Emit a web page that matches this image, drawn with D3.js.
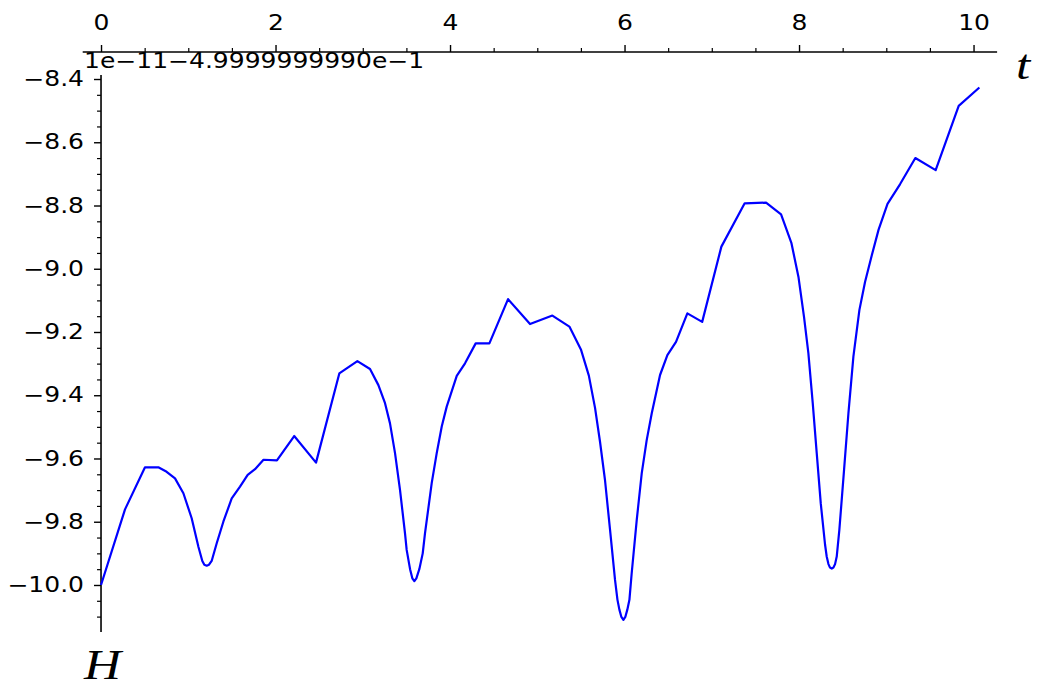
<!DOCTYPE html>
<html>
<head>
<meta charset="utf-8">
<script src="https://cdn.jsdelivr.net/npm/d3@7"></script>
<style>
  html, body { margin: 0; padding: 0; background: #fff; }
  svg { display: block; }
  .tick text { font-family: "DejaVu Sans", sans-serif; font-size: 20.5px; fill: #000; }
  .mathlabel { font-family: "Liberation Serif", "DejaVu Serif", serif; font-style: italic; font-size: 42px; fill: #000; }
  .offset { font-family: "DejaVu Sans", sans-serif; font-size: 20.5px; fill: #000; }
</style>
</head>
<body>
<svg id="chart" width="1038" height="685"></svg>
<script>
// Time samples t and energy H (in units of 1e-11, relative to -4.9999999990e-1)
const tValues = [
  0.000, 0.275, 0.504, 0.657, 0.752, 0.848, 0.944, 1.039, 1.116, 1.161,
  1.184, 1.211, 1.238, 1.268, 1.326, 1.402, 1.498, 1.593, 1.681, 1.765,
  1.862, 2.016, 2.214, 2.464, 2.731, 2.938, 3.083, 3.179, 3.255, 3.312,
  3.370, 3.427, 3.484, 3.503, 3.542, 3.568, 3.591, 3.614, 3.648, 3.687,
  3.713, 3.790, 3.847, 3.905, 3.962, 4.077, 4.172, 4.294, 4.451, 4.665,
  4.917, 5.173, 5.368, 5.500, 5.591, 5.662, 5.719, 5.776, 5.834, 5.891,
  5.919, 5.941, 5.964, 5.987, 6.009, 6.032, 6.056, 6.082, 6.140, 6.197,
  6.254, 6.312, 6.407, 6.491, 6.590, 6.720, 6.890, 7.110, 7.377, 7.622,
  7.794, 7.912, 7.993, 8.057, 8.107, 8.157, 8.203, 8.249, 8.298, 8.317,
  8.337, 8.355, 8.375, 8.394, 8.413, 8.432, 8.462, 8.516, 8.566, 8.623,
  8.692, 8.757, 8.834, 8.911, 9.014, 9.157, 9.333, 9.566, 9.830, 10.067
];
const hValues = [
  -10.000, -9.761, -9.628, -9.628, -9.642, -9.663, -9.710, -9.789, -9.879, -9.924,
  -9.936, -9.939, -9.936, -9.924, -9.868, -9.800, -9.726, -9.689, -9.652, -9.634,
  -9.604, -9.606, -9.529, -9.613, -9.331, -9.292, -9.317, -9.368, -9.425, -9.489,
  -9.584, -9.700, -9.837, -9.889, -9.950, -9.979, -9.988, -9.979, -9.950, -9.900,
  -9.837, -9.678, -9.584, -9.499, -9.436, -9.339, -9.299, -9.236, -9.236, -9.096,
  -9.175, -9.148, -9.183, -9.255, -9.338, -9.440, -9.547, -9.668, -9.826, -9.984,
  -10.047, -10.078, -10.101, -10.110, -10.101, -10.078, -10.047, -9.963, -9.794, -9.647,
  -9.542, -9.457, -9.336, -9.273, -9.231, -9.141, -9.168, -8.930, -8.793, -8.791,
  -8.828, -8.918, -9.025, -9.152, -9.267, -9.425, -9.584, -9.742, -9.872, -9.910,
  -9.934, -9.945, -9.948, -9.945, -9.934, -9.910, -9.826, -9.636, -9.457, -9.278,
  -9.130, -9.041, -8.957, -8.877, -8.795, -8.733, -8.650, -8.688, -8.485, -8.427
];

// Tick positions
const xMajorTicks = [0, 2, 4, 6, 8, 10];
const xMinorTicks = [0.5, 1, 1.5, 2.5, 3, 3.5, 4.5, 5, 5.5, 6.5, 7, 7.5, 8.5, 9, 9.5];
const yMajorTicks = [-10.0, -9.8, -9.6, -9.4, -9.2, -9.0, -8.8, -8.6, -8.4];
const yMinorTicks = [-10.1, -10.05, -9.95, -9.9, -9.85, -9.75, -9.7, -9.65, -9.55, -9.5, -9.45,
  -9.35, -9.3, -9.25, -9.15, -9.1, -9.05, -8.95, -8.9, -8.85, -8.75, -8.7, -8.65, -8.55, -8.5, -8.45];

const offsetText = "1e\u221211\u22124.9999999990e\u22121";
const xLabel = "t";
const yLabel = "H";

const data = tValues.map((t, i) => ({ t, h: hValues[i] }));

const svg = d3.select("#chart");
const stretch = 1.22;

const x = d3.scaleLinear().domain([-0.21, 10.27]).range([82.7, 997.1]);
const y = d3.scaleLinear().domain([-10.149, -8.387]).range([632.1, 74.9]);

const xAxisY = 52;
const yAxisX = x(0);

// Horizontal axis along the top
const gx = svg.append("g").attr("transform", `translate(0,${xAxisY})`);
gx.append("line")
  .attr("x1", x.range()[0]).attr("x2", x.range()[1])
  .attr("y1", 0).attr("y2", 0)
  .attr("stroke", "#000").attr("stroke-width", 1.6);
gx.append("g")
  .call(d3.axisTop(x).tickValues(xMinorTicks).tickSize(4).tickSizeOuter(0).tickFormat(""))
  .call(g => g.select(".domain").remove())
  .selectAll("line").attr("stroke-width", 1.2);
gx.append("g")
  .call(d3.axisTop(x).tickValues(xMajorTicks).tickSize(7).tickPadding(15).tickSizeOuter(0).tickFormat(d3.format("d")))
  .call(g => g.select(".domain").remove())
  .call(g => g.selectAll("line").attr("stroke-width", 1.4))
  .call(g => g.selectAll("text").attr("transform", `scale(${stretch},1)`));

// Vertical axis
const gy = svg.append("g").attr("transform", `translate(${yAxisX},0)`);
gy.append("line")
  .attr("x1", 0).attr("x2", 0)
  .attr("y1", y.range()[1]).attr("y2", y.range()[0])
  .attr("stroke", "#000").attr("stroke-width", 1.6);
gy.append("g")
  .call(d3.axisLeft(y).tickValues(yMinorTicks).tickSize(4).tickSizeOuter(0).tickFormat(""))
  .call(g => g.select(".domain").remove())
  .selectAll("line").attr("stroke-width", 1.2);
gy.append("g")
  .call(d3.axisLeft(y).tickValues(yMajorTicks).tickSize(7).tickSizeOuter(0).tickFormat(d3.format(".1f")))
  .call(g => g.select(".domain").remove())
  .call(g => g.selectAll("line").attr("stroke-width", 1.4))
  .call(g => g.selectAll("text")
    .attr("x", 0)
    .attr("transform", `translate(-17,0) scale(${stretch},1)`));

// Offset annotation for the vertical scale
svg.append("text")
  .attr("class", "offset")
  .attr("transform", `translate(84,68) scale(${stretch},1)`)
  .text(offsetText);

// Axis names
svg.append("text")
  .attr("class", "mathlabel")
  .attr("transform", `translate(1016,79) scale(${stretch},1)`)
  .text(xLabel);
svg.append("text")
  .attr("class", "mathlabel")
  .attr("transform", `translate(84,679) scale(${stretch},1)`)
  .text(yLabel);

// The curve
const line = d3.line().x(d => x(d.t)).y(d => y(d.h)).curve(d3.curveLinear);
svg.append("path")
  .datum(data)
  .attr("fill", "none")
  .attr("stroke", "#0000ff")
  .attr("stroke-width", 2.2)
  .attr("stroke-linejoin", "round")
  .attr("d", line);
</script>
</body>
</html>
